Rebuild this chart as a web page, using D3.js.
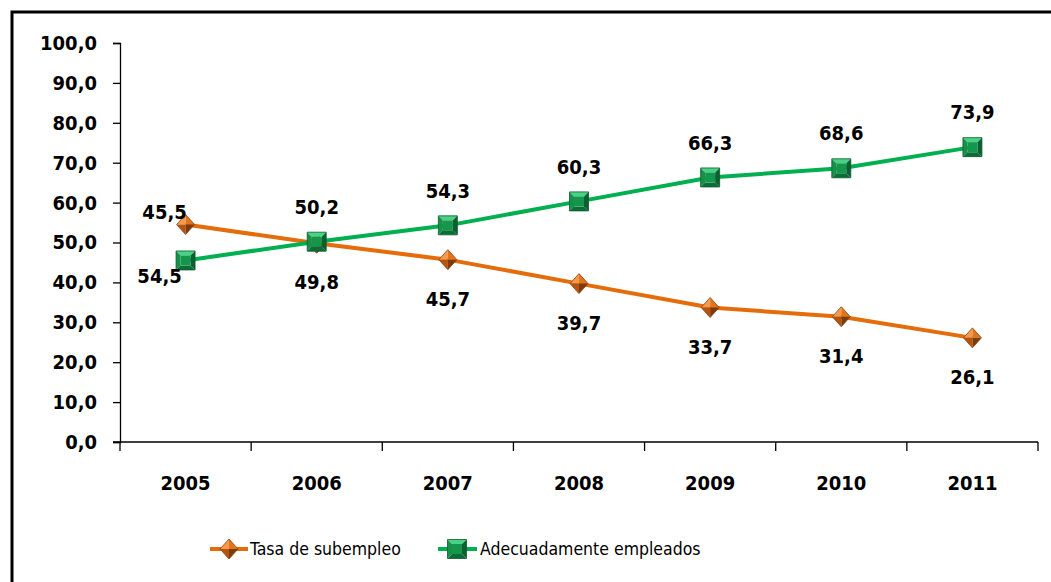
<!DOCTYPE html>
<html>
<head>
<meta charset="utf-8">
<script src="https://cdn.jsdelivr.net/npm/d3@7"></script>
<style>
  html, body { margin: 0; padding: 0; background: #fff; }
  svg { display: block; }
  text { font-family: "DejaVu Sans Condensed", "DejaVu Sans", sans-serif; fill: #000; }
</style>
</head>
<body>
<svg id="chart" width="1051" height="582"></svg>
<script>
// data
var years = ["2005", "2006", "2007", "2008", "2009", "2010", "2011"];
var subempleo = [54.5, 49.8, 45.7, 39.7, 33.7, 31.4, 26.1];
var adecuados = [45.5, 50.2, 54.3, 60.3, 66.3, 68.6, 73.9];
// the first-year labels in the source are swapped / hand placed
var subempleoLabels = ["54,5", "49,8", "45,7", "39,7", "33,7", "31,4", "26,1"];
var adecuadosLabels = ["45,5", "50,2", "54,3", "60,3", "66,3", "68,6", "73,9"];
var yTicks = [0, 10, 20, 30, 40, 50, 60, 70, 80, 90, 100];
var seriesNames = ["Tasa de subempleo", "Adecuadamente empleados"];

var svg = d3.select("#chart");

// outer frame (right and bottom edges fall outside the picture)
svg.append("rect")
  .attr("x", 12).attr("y", 12)
  .attr("width", 1100).attr("height", 700)
  .attr("fill", "none")
  .attr("stroke", "#000")
  .attr("stroke-width", 3);

var x = d3.scaleBand().domain(years).range([120, 1038]);
var y = d3.scaleLinear().domain([0, 100]).range([442, 43]);

var fmt = function(d) { return d3.format(".1f")(d).replace(".", ","); };

// y axis
var yAxis = svg.append("g")
  .attr("transform", "translate(120,0)")
  .call(d3.axisLeft(y).tickValues(yTicks).tickFormat(fmt).tickSize(7).tickPadding(16));
yAxis.select(".domain").attr("stroke", "#000").attr("stroke-width", 1.3);
yAxis.selectAll(".tick line").attr("stroke", "#000").attr("stroke-width", 1.3);
yAxis.selectAll(".tick text")
  .attr("font-family", "DejaVu Sans Condensed, DejaVu Sans, sans-serif")
  .attr("font-size", 20).attr("font-weight", "bold").attr("fill", "#000");

// x axis, ticks on band boundaries
var xAxisG = svg.append("g").attr("transform", "translate(0,442)");
xAxisG.append("line")
  .attr("x1", 113).attr("x2", x.range()[1])
  .attr("stroke", "#000").attr("stroke-width", 1.3);
var bounds = years.map(function(d) { return x(d); }).concat([x.range()[1]]);
xAxisG.selectAll("line.tk").data(bounds).enter().append("line")
  .attr("class", "tk")
  .attr("x1", function(d) { return d; }).attr("x2", function(d) { return d; })
  .attr("y1", 0).attr("y2", 9)
  .attr("stroke", "#000").attr("stroke-width", 1.3);
xAxisG.selectAll("text").data(years).enter().append("text")
  .attr("x", function(d) { return x(d) + x.bandwidth() / 2; })
  .attr("y", 48)
  .attr("text-anchor", "middle")
  .attr("font-size", 20).attr("font-weight", "bold")
  .text(function(d) { return d; });

var cx = function(i) { return x(years[i]) + x.bandwidth() / 2; };

var line = d3.line()
  .x(function(d, i) { return cx(i); })
  .y(function(d) { return y(d); });

var orange = "#e46c0a", green = "#00b050";

svg.append("path").datum(subempleo)
  .attr("d", line).attr("fill", "none")
  .attr("stroke", orange).attr("stroke-width", 4).attr("stroke-linejoin", "round");
svg.append("path").datum(adecuados)
  .attr("d", line).attr("fill", "none")
  .attr("stroke", green).attr("stroke-width", 4).attr("stroke-linejoin", "round");

// bevelled markers, drawn as four triangles meeting in the middle
function diamond(g, px, py) {
  var w = 9, h = 10;
  var T = [px, py - h], R = [px + w, py], B = [px, py + h], L = [px - w, py], C = [px, py];
  var faces = [
    [[T, L, C], "#f59a4c"],
    [[T, R, C], "#e0751c"],
    [[L, B, C], "#b4540e"],
    [[R, B, C], "#7e3a09"]
  ];
  faces.forEach(function(f) {
    g.append("path").attr("d", "M" + f[0].join("L") + "Z").attr("fill", f[1]);
  });
  g.append("path").attr("d", "M" + [T, R, B, L].join("L") + "Z")
    .attr("fill", "none").attr("stroke", "#8a430f").attr("stroke-width", 0.8);
}

function square(g, px, py) {
  var s = 9.5;
  var TL = [px - s, py - s], TR = [px + s, py - s], BR = [px + s, py + s], BL = [px - s, py + s];
  var i = 5;
  var iTL = [px - i, py - i], iTR = [px + i, py - i], iBR = [px + i, py + i], iBL = [px - i, py + i];
  var faces = [
    [[TL, TR, iTR, iTL], "#47d383"],
    [[TL, iTL, iBL, BL], "#16914a"],
    [[TR, BR, iBR, iTR], "#0b5f30"],
    [[BL, iBL, iBR, BR], "#0a6e36"],
    [[iTL, iTR, iBR, iBL], "#14964c"]
  ];
  faces.forEach(function(f) {
    g.append("path").attr("d", "M" + f[0].join("L") + "Z").attr("fill", f[1]);
  });
  g.append("path").attr("d", "M" + [TL, TR, BR, BL].join("L") + "Z")
    .attr("fill", "none").attr("stroke", "#0b5a2c").attr("stroke-width", 0.8);
}

var mk = svg.append("g");
subempleo.forEach(function(d, i) { diamond(mk.append("g"), cx(i), y(d)); });
adecuados.forEach(function(d, i) { square(mk.append("g"), cx(i), y(d)); });

// data labels
var lab = svg.append("g")
  .attr("font-size", 20).attr("font-weight", "bold")
  .attr("text-anchor", "middle");
years.forEach(function(yr, i) {
  var yo = y(subempleo[i]), yg = y(adecuados[i]);
  var gx = cx(i), gy = yg - 35, ox = cx(i), oy = yo + 39;
  if (i === 0) {
    gx = cx(i) - 21; gy = Math.min(yo, yg) - 13;
    ox = cx(i) - 26; oy = Math.max(yo, yg) + 15;
  }
  lab.append("text").attr("x", gx).attr("y", gy).attr("dy", "0.36em").text(adecuadosLabels[i]);
  lab.append("text").attr("x", ox).attr("y", oy).attr("dy", "0.36em").text(subempleoLabels[i]);
});

// legend
var leg = svg.append("g").attr("transform", "translate(0,549)");
leg.append("line").attr("x1", 210).attr("x2", 248)
  .attr("stroke", orange).attr("stroke-width", 4);
diamond(leg.append("g"), 229, 0);
leg.append("text").attr("x", 250).attr("dy", "0.36em")
  .attr("font-size", 17.5).text(seriesNames[0]);
leg.append("line").attr("x1", 438).attr("x2", 477)
  .attr("stroke", green).attr("stroke-width", 4);
square(leg.append("g"), 457, 0);
leg.append("text").attr("x", 480).attr("dy", "0.36em")
  .attr("font-size", 17.5).text(seriesNames[1]);
</script>
</body>
</html>
